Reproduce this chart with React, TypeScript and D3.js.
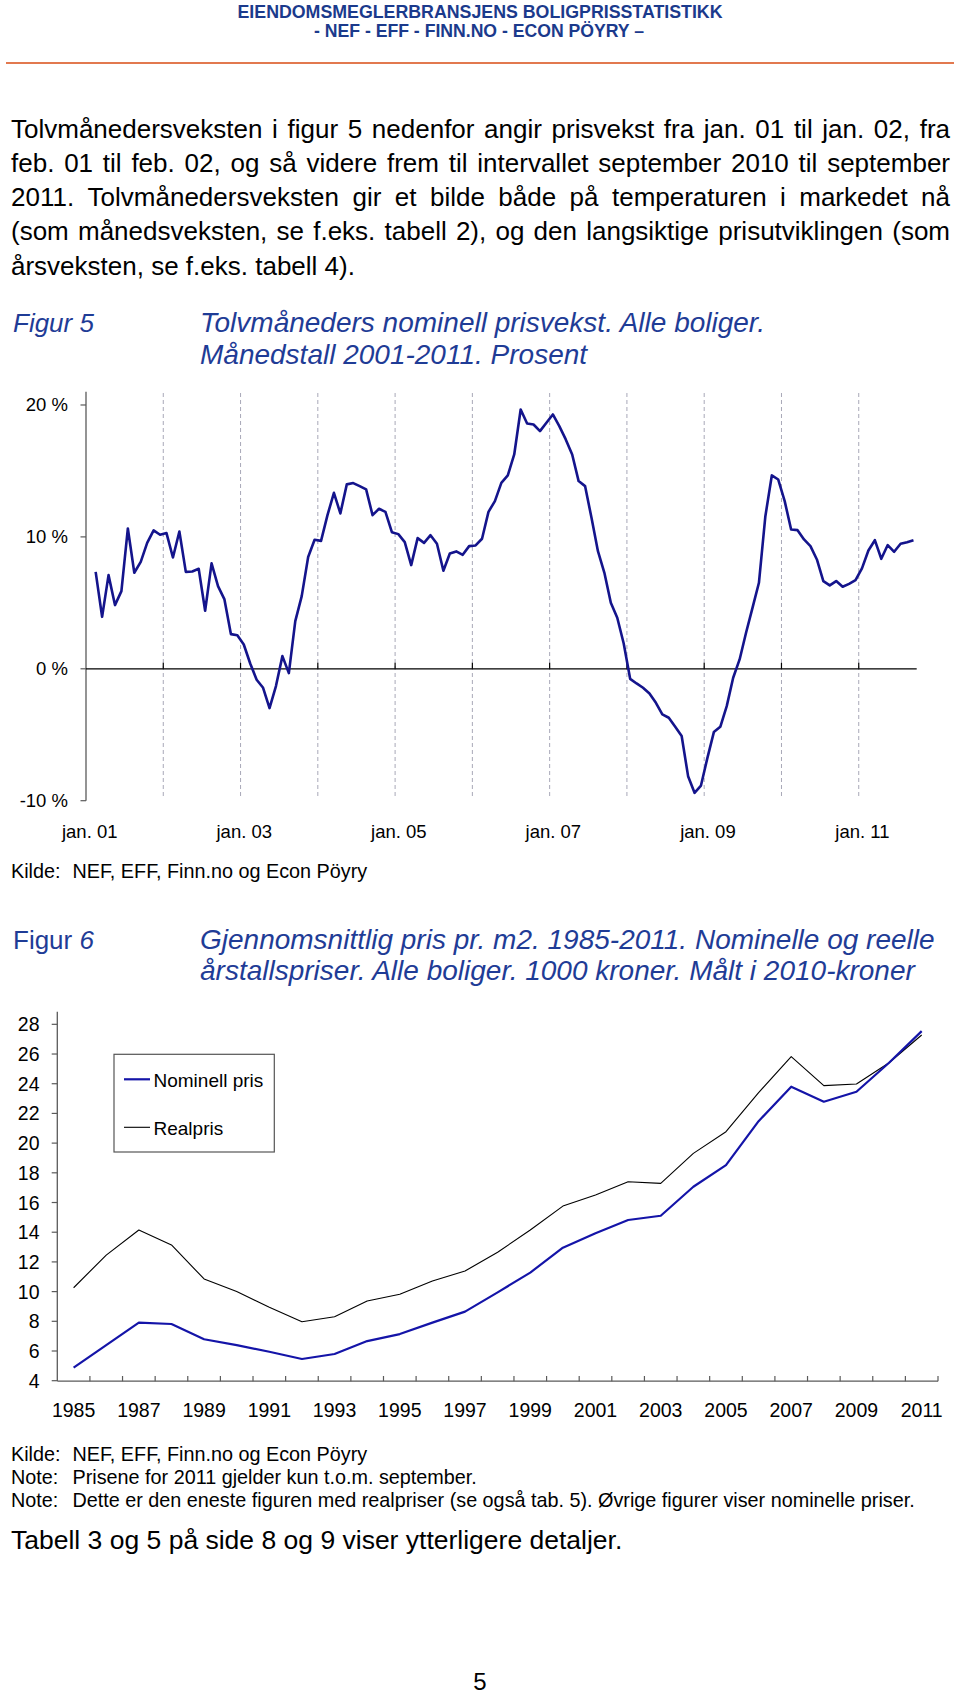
import React, { useMemo } from "react";
import * as d3 from "d3";

const W = 960;
const H = 1698;
const FONT = "'Liberation Sans', Arial, Helvetica, sans-serif";
const BLUE_TEXT = "#1f3c96";

// ---------- Text content ----------
const headerLines = [
  "EIENDOMSMEGLERBRANSJENS BOLIGPRISSTATISTIKK",
  "- NEF - EFF - FINN.NO - ECON PÖYRY –",
];
const paragraphLines = [
  "Tolvmånedersveksten i figur 5 nedenfor angir prisvekst fra jan. 01 til jan. 02, fra",
  "feb. 01 til feb. 02, og så videre frem til intervallet september 2010 til september",
  "2011. Tolvmånedersveksten gir et bilde både på temperaturen i markedet nå",
  "(som månedsveksten, se f.eks. tabell 2), og den langsiktige prisutviklingen (som",
  "årsveksten, se f.eks. tabell 4).",
];
const fig5TitleLines = ["Tolvmåneders nominell prisvekst. Alle boliger.", "Månedstall 2001-2011. Prosent"];
const fig6TitleLines = [
  "Gjennomsnittlig pris pr. m2. 1985-2011. Nominelle og reelle",
  "årstallspriser. Alle boliger. 1000 kroner. Målt i 2010-kroner",
];
const fig5Source = ["Kilde:", "NEF, EFF, Finn.no og Econ Pöyry"];
const fig6Notes = [
  ["Kilde:", "NEF, EFF, Finn.no og Econ Pöyry"],
  ["Note:", "Prisene for 2011 gjelder kun t.o.m. september."],
  ["Note:", "Dette er den eneste figuren med realpriser (se også tab. 5). Øvrige figurer viser nominelle priser."],
];
const closingLine = "Tabell 3 og 5 på side 8 og 9 viser ytterligere detaljer.";
const pageNumber = "5";

// ---------- Figure 5 data: 12-month growth, feb. 01 – sep. 11 ----------
const fig5CategoryStart = new Date(2001, 0, 1);
const fig5CategoryEnd = new Date(2011, 9, 1); // exclusive -> jan. 01 .. sep. 11
const fig5FirstValueIndex = 1; // first value belongs to feb. 01
const fig5Values = [
  7.35, 3.94, 7.1, 4.83, 5.89, 10.64, 7.28, 8.11, 9.55, 10.49, 10.16,
  10.29, 8.44, 10.41, 7.35, 7.38, 7.58, 4.4, 7.99, 6.27, 5.26, 2.63, 2.55,
  1.84, 0.4, -0.83, -1.44, -2.98, -1.31, 0.96, -0.33, 3.61, 5.51, 8.47, 9.78, 9.7,
  11.65, 13.34, 11.78, 13.98, 14.08, 13.85, 13.6, 11.65, 12.13, 11.9, 10.36,
  10.21, 9.6, 7.86, 9.91, 9.55, 10.13, 9.48, 7.43, 8.74, 8.9, 8.64, 9.3,
  9.35, 9.86, 11.9, 12.71, 14.1, 14.66, 16.25, 19.66, 18.6, 18.52, 18.02, 18.65,
  19.28, 18.4, 17.39, 16.25, 14.23, 13.85, 11.45, 8.92, 7.28, 5.0, 3.87, 1.92,
  -0.76, -1.11, -1.44, -1.87, -2.58, -3.46, -3.71, -4.4, -5.1, -8.14, -9.4, -8.85,
  -6.75, -4.8, -4.4, -2.83, -0.68, 0.71, 2.73, 4.62, 6.52, 11.57, 14.66, 14.35,
  12.71, 10.56, 10.51, 9.81, 9.3, 8.29, 6.65, 6.32, 6.65, 6.22, 6.44, 6.72,
  7.61, 8.97, 9.75, 8.34, 9.38, 8.87, 9.48, 9.6, 9.75,
];
const fig5YTicks = [20, 10, 0, -10];
const fig5YDomain = [-10, 21];
const fig5XLabelYears = [2001, 2003, 2005, 2007, 2009, 2011];

// ---------- Figure 6 data ----------
const fig6Years = d3.range(1985, 2012);
const fig6Nominal = [
  4.88, 6.4, 7.91, 7.82, 6.79, 6.4, 5.95, 5.46, 5.8, 6.67, 7.14, 7.91, 8.65,
  9.95, 11.28, 12.96, 13.93, 14.82, 15.11, 17.06, 18.52, 21.48, 23.8, 22.79,
  23.46, 25.41, 27.54,
];
const fig6Real = [
  10.26, 12.46, 14.15, 13.14, 10.85, 10.0, 8.94, 7.97, 8.31, 9.37, 9.82, 10.71,
  11.39, 12.65, 14.15, 15.76, 16.5, 17.4, 17.29, 19.31, 20.77, 23.4, 25.82,
  23.87, 23.98, 25.41, 27.28,
];
const fig6YTicks = d3.range(4, 29, 2);
const fig6YDomain = [4, 28.85];
const fig6XLabelYears = d3.range(1985, 2012, 2);
const fig6Legend = ["Nominell pris", "Realpris"];

function useMeasure() {
  return useMemo(() => {
    const c = document.createElement("canvas");
    const ctx = c.getContext("2d");
    return (text: string, font: string) => {
      if (!ctx) return text.length * 10;
      ctx.font = font;
      return ctx.measureText(text).width;
    };
  }, []);
}

function JustifiedLine({ text, x0, x1, y, size, measure, justify }: any) {
  const font = `${size}px 'Liberation Sans'`;
  const words = text.split(" ");
  const widths = words.map((w: string) => measure(w, font));
  const total = widths.reduce((a: number, b: number) => a + b, 0);
  const spaceW = measure(" ", font);
  const gap = justify && words.length > 1 ? (x1 - x0 - total) / (words.length - 1) : spaceW;
  let x = x0;
  const xs: number[] = [];
  widths.forEach((w: number) => {
    xs.push(x);
    x += w + gap;
  });
  return (
    <text y={y} fontSize={size} fontFamily={FONT} fill="#000">
      {words.map((w: string, i: number) => (
        <tspan key={i} x={xs[i]}>
          {w}
        </tspan>
      ))}
    </text>
  );
}

export default function App() {
  const measure = useMeasure();

  // Figure 5 scales
  const months = d3.timeMonths(fig5CategoryStart, fig5CategoryEnd);
  const x5 = d3.scaleBand<number>().domain(d3.range(months.length)).range([86, 916.7]).padding(0);
  const y5 = d3.scaleLinear().domain(fig5YDomain).range([800.7, 391.8]);
  const bw5 = x5.bandwidth();
  const line5 = d3
    .line<number>()
    .x((_, i) => (x5(i + fig5FirstValueIndex) as number) + bw5 / 2)
    .y((d) => y5(d));
  const yearBoundaries5 = months
    .map((m, i) => ({ m, i }))
    .filter((d) => d.m.getMonth() === 0 && d.i > 0)
    .map((d) => x5(d.i) as number);
  const labelIdx5 = fig5XLabelYears.map((yr) => months.findIndex((m) => m.getFullYear() === yr && m.getMonth() === 0));
  const fmtMonth = (d: Date) => `jan. ${d3.timeFormat("%y")(d)}`;

  // Figure 6 scales
  const x6 = d3.scaleBand<number>().domain(fig6Years).range([57.3, 938]).padding(0);
  const y6 = d3.scaleLinear().domain(fig6YDomain).range([1380.7, 1011.7]);
  const bw6 = x6.bandwidth();
  const line6 = d3
    .line<number>()
    .x((_, i) => (x6(fig6Years[i]) as number) + bw6 / 2);
  line6.y((d) => y6(d));
  const ticks6 = [...fig6Years.slice(1).map((yr) => x6(yr) as number), 938];

  const axisGray = "#5a5a5a";
  const small = 19.8;

  return (
    <svg
      width={W}
      height={H}
      viewBox={`0 0 ${W} ${H}`}
      style={{ position: "absolute", left: 0, top: 0, background: "#fff", display: "block" }}
    >
      <rect x={0} y={0} width={W} height={H} fill="#fff" />
      {/* Header */}
      <text x={480} y={18} textAnchor="middle" fontFamily={FONT} fontWeight="bold" fontSize={18}
        fill="#1b3a8c" textLength={485} lengthAdjust="spacingAndGlyphs">{headerLines[0]}</text>
      <text x={479} y={37} textAnchor="middle" fontFamily={FONT} fontWeight="bold" fontSize={18}
        fill="#1b3a8c" textLength={330} lengthAdjust="spacingAndGlyphs">{headerLines[1]}</text>
      <line x1={6} x2={954} y1={63} y2={63} stroke="#e2794f" strokeWidth={2.2} />

      {/* Paragraph */}
      {paragraphLines.map((l, i) => (
        <JustifiedLine key={i} text={l} x0={11} x1={950} y={137.5 + i * 34.3} size={26}
          measure={measure} justify={i < paragraphLines.length - 1} />
      ))}

      {/* Figure 5 title */}
      <text x={13} y={331.5} fontFamily={FONT} fontStyle="italic" fontSize={26} fill={BLUE_TEXT}>Figur 5</text>
      {fig5TitleLines.map((l, i) => (
        <text key={i} x={200} y={332 + i * 31.5} fontFamily={FONT} fontStyle="italic" fontSize={28} fill={BLUE_TEXT}>{l}</text>
      ))}

      {/* Figure 5 chart */}
      <g>
        {yearBoundaries5.map((x, i) => (
          <line key={"g" + i} x1={x} x2={x} y1={393} y2={798} stroke="#a8a8b8" strokeWidth={1} strokeDasharray="4,3" />
        ))}
        <line x1={86} x2={86} y1={391.8} y2={800.7} stroke={axisGray} strokeWidth={1.3} />
        {fig5YTicks.map((t) => (
          <g key={t}>
            <line x1={80.5} x2={86} y1={y5(t)} y2={y5(t)} stroke={axisGray} strokeWidth={1.2} />
            <text x={68} y={y5(t) + 6.5} textAnchor="end" fontFamily={FONT} fontSize={18.5} fill="#000">{`${t} %`}</text>
          </g>
        ))}
        <line x1={86} x2={916.7} y1={y5(0)} y2={y5(0)} stroke="#000" strokeWidth={1.3} />
        {yearBoundaries5.map((x, i) => (
          <line key={"t" + i} x1={x} x2={x} y1={y5(0) - 6} y2={y5(0)} stroke="#000" strokeWidth={1.2} />
        ))}
        <path d={line5(fig5Values) || ""} fill="none" stroke="#14148c" strokeWidth={2.6} strokeLinejoin="round" />
        {labelIdx5.map((idx, i) => (
          <text key={"xl" + i} x={(x5(idx) as number) + bw5 / 2 + 0.5} y={837.5} textAnchor="middle"
            fontFamily={FONT} fontSize={18.5} fill="#000">{fmtMonth(months[idx])}</text>
        ))}
      </g>
      <text y={878} fontFamily={FONT} fontSize={small} fill="#000">
        <tspan x={11}>{fig5Source[0]}</tspan>
        <tspan x={72.5}>{fig5Source[1]}</tspan>
      </text>

      {/* Figure 6 title */}
      <text x={13} y={948.5} fontFamily={FONT} fontSize={26} fill={BLUE_TEXT}>
        Figur <tspan fontStyle="italic">6</tspan>
      </text>
      {fig6TitleLines.map((l, i) => (
        <text key={i} x={200} y={949 + i * 31} fontFamily={FONT} fontStyle="italic" fontSize={28} fill={BLUE_TEXT}>{l}</text>
      ))}

      {/* Figure 6 chart */}
      <g>
        <line x1={57.3} x2={57.3} y1={1011.7} y2={1381} stroke={axisGray} strokeWidth={1.3} />
        {fig6YTicks.map((t) => (
          <g key={t}>
            <line x1={51.7} x2={57.3} y1={y6(t)} y2={y6(t)} stroke={axisGray} strokeWidth={1.2} />
            <text x={39.5} y={y6(t) + 7} textAnchor="end" fontFamily={FONT} fontSize={19.5} fill="#000">{t}</text>
          </g>
        ))}
        <line x1={57.3} x2={938} y1={1381.2} y2={1381.2} stroke={axisGray} strokeWidth={1.3} />
        {ticks6.map((x, i) => (
          <line key={"t6" + i} x1={x} x2={x} y1={1376} y2={1381.2} stroke={axisGray} strokeWidth={1.2} />
        ))}
        {fig6XLabelYears.map((yr) => (
          <text key={yr} x={(x6(yr) as number) + bw6 / 2} y={1417} textAnchor="middle" fontFamily={FONT}
            fontSize={19.5} fill="#000">{yr}</text>
        ))}
        <path d={line6(fig6Real) || ""} fill="none" stroke="#000" strokeWidth={1.1} strokeLinejoin="round" />
        <path d={line6(fig6Nominal) || ""} fill="none" stroke="#1414a8" strokeWidth={2.2} strokeLinejoin="round" />
        {/* Legend */}
        <rect x={114} y={1054.3} width={160.3} height={97.7} fill="#fff" stroke="#555" strokeWidth={1.2} />
        <line x1={124} x2={150} y1={1079.3} y2={1079.3} stroke="#1414a8" strokeWidth={2.2} />
        <text x={153.5} y={1086.5} fontFamily={FONT} fontSize={19} fill="#000">{fig6Legend[0]}</text>
        <line x1={124} x2={150} y1={1127.3} y2={1127.3} stroke="#000" strokeWidth={1.1} />
        <text x={153.5} y={1134.5} fontFamily={FONT} fontSize={19} fill="#000">{fig6Legend[1]}</text>
      </g>

      {fig6Notes.map((n, i) => (
        <text key={i} y={1460.5 + i * 23.3} fontFamily={FONT} fontSize={small} fill="#000">
          <tspan x={11}>{n[0]}</tspan>
          <tspan x={72.5}>{n[1]}</tspan>
        </text>
      ))}
      <text x={11} y={1548.5} fontFamily={FONT} fontSize={26.5} fill="#000">{closingLine}</text>
      <text x={480} y={1690} textAnchor="middle" fontFamily={FONT} fontSize={24} fill="#000">{pageNumber}</text>
    </svg>
  );
}
